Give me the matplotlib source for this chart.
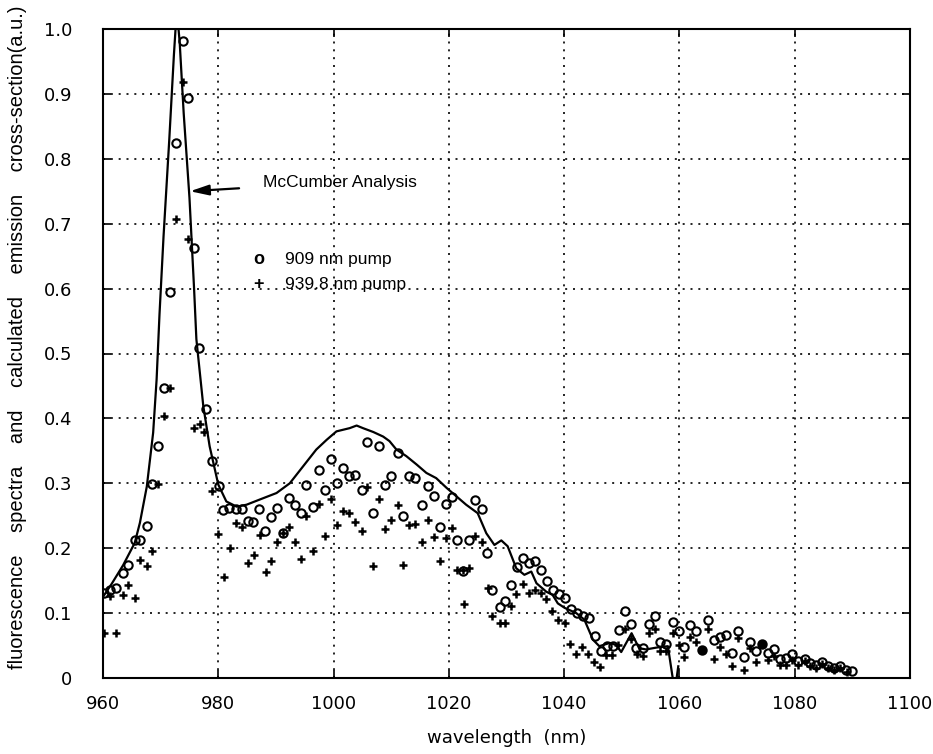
import matplotlib
matplotlib.use('Agg')
import matplotlib.pyplot as plt
from matplotlib import font_manager

# McCumber analysis (solid line)
mc_x = [960.0, 961.5, 963.5, 965.5, 966.4, 967.6, 968.7, 969.3, 969.8, 970.5, 971.5, 972.3,
        972.8, 973.3, 974.0, 975.0, 975.8, 976.2, 977.4, 978.5, 980.0, 981.4, 983.2, 984.9,
        987.2, 990.1, 992.4, 994.7, 997.0, 998.8, 1000.5, 1002.8, 1004.0, 1005.1, 1006.9,
        1008.6, 1009.7, 1010.9, 1012.6, 1014.4, 1016.1, 1017.8, 1019.6, 1021.3, 1023.0,
        1025.0, 1026.5, 1027.9, 1029.1, 1030.2, 1031.7, 1033.1, 1034.3, 1035.2, 1036.9,
        1038.0, 1038.9, 1040.1, 1042.1, 1043.5, 1045.0, 1046.1, 1047.9, 1049.0, 1049.9,
        1051.7, 1053.0, 1054.2, 1056.1, 1058.0, 1058.8, 1059.2, 1059.8]
mc_y = [0.125, 0.145, 0.174, 0.208, 0.239, 0.295, 0.378, 0.46, 0.56, 0.68, 0.83, 0.96,
        1.03, 0.98, 0.87, 0.74, 0.60, 0.522, 0.419, 0.357, 0.298, 0.272, 0.264, 0.267,
        0.275, 0.285, 0.300, 0.326, 0.352, 0.367, 0.380, 0.385, 0.389, 0.385, 0.379,
        0.372, 0.365, 0.352, 0.342, 0.329, 0.316, 0.308, 0.293, 0.280, 0.267,
        0.254, 0.223, 0.205, 0.212, 0.203, 0.169, 0.159, 0.164, 0.146, 0.133,
        0.128, 0.115, 0.108, 0.100, 0.090, 0.059, 0.049, 0.054, 0.051, 0.040,
        0.069, 0.046, 0.044, 0.047, 0.049, 0.002, -0.02, 0.018]

# 909 nm pump (open circles)
p909_x = [960.2, 961.2, 962.3, 963.4, 964.4, 965.5, 966.5, 967.6, 968.5, 969.6, 970.6, 971.6,
          972.65, 973.8, 974.8, 975.8, 976.7, 977.85, 978.9, 980.05, 980.85, 981.9, 983.05,
          984.1, 985.1, 986.05, 987.1, 988.1, 989.2, 990.2, 991.25, 992.2, 993.3, 994.3,
          995.3, 996.45, 997.5, 998.5, 999.6, 1000.6, 1001.65, 1002.7, 1003.7, 1004.9,
          1005.8, 1006.85, 1007.9, 1008.9, 1010.0, 1011.1, 1012.05, 1013.1, 1014.2, 1015.3,
          1016.3, 1017.4, 1018.4, 1019.45, 1020.5, 1021.4, 1022.45, 1023.5, 1024.6, 1025.7,
          1026.7, 1027.5, 1028.8, 1029.7, 1030.8, 1031.8, 1032.8, 1033.9, 1034.9, 1036.0,
          1037.0, 1038.0, 1039.1, 1040.1, 1041.2, 1042.2, 1043.2, 1044.3, 1045.3, 1046.4,
          1047.4, 1048.4, 1049.5, 1050.5, 1051.55, 1052.5, 1053.6, 1054.7, 1055.7, 1056.65,
          1057.7, 1058.8, 1059.9, 1060.8, 1061.85, 1062.9, 1065.0, 1066.0, 1067.05, 1068.1,
          1069.1, 1070.2, 1071.2, 1072.25, 1073.3, 1075.4, 1076.4, 1077.45, 1078.5, 1079.5,
          1080.6, 1081.7, 1082.6, 1083.7, 1084.7, 1085.8, 1086.8, 1087.8, 1088.9, 1090.0]
p909_y = [0.131, 0.135, 0.138, 0.162, 0.174, 0.213, 0.213, 0.234, 0.299, 0.358, 0.447, 0.595,
          0.825, 0.982, 0.894, 0.662, 0.509, 0.415, 0.334, 0.296, 0.259, 0.262, 0.260,
          0.260, 0.242, 0.241, 0.260, 0.227, 0.248, 0.262, 0.223, 0.277, 0.267, 0.254,
          0.298, 0.263, 0.321, 0.290, 0.338, 0.301, 0.323, 0.312, 0.313, 0.290,
          0.364, 0.255, 0.357, 0.297, 0.311, 0.346, 0.249, 0.312, 0.308, 0.266,
          0.296, 0.280, 0.233, 0.268, 0.279, 0.213, 0.165, 0.213, 0.275, 0.260,
          0.193, 0.135, 0.109, 0.118, 0.144, 0.171, 0.185, 0.177, 0.181, 0.166,
          0.149, 0.136, 0.130, 0.123, 0.106, 0.100, 0.095, 0.092, 0.064, 0.042,
          0.049, 0.049, 0.074, 0.104, 0.083, 0.046, 0.046, 0.083, 0.096, 0.056,
          0.052, 0.087, 0.073, 0.047, 0.082, 0.073, 0.090, 0.058, 0.063, 0.066,
          0.039, 0.072, 0.033, 0.056, 0.041, 0.039, 0.044, 0.030, 0.031, 0.037,
          0.026, 0.030, 0.023, 0.020, 0.025, 0.019, 0.016, 0.019, 0.013, 0.011]
filled_x = [1063.9, 1074.3]
filled_y = [0.043, 0.052]

# 939.8 nm pump (plus signs)
p939_x = [960.2, 961.2, 962.25, 963.4, 964.4, 965.5, 966.5, 967.6, 968.5, 969.6, 970.6, 971.6,
          972.65, 973.8, 974.8, 975.8, 976.8, 977.6, 978.9, 979.9, 981.0, 982.0, 983.05,
          984.1, 985.1, 986.2, 987.2, 988.25, 989.2, 990.2, 991.25, 992.3, 993.3, 994.4,
          995.3, 996.45, 997.5, 998.5, 999.6, 1000.6, 1001.65, 1002.7, 1003.7, 1004.9,
          1005.8, 1006.85, 1007.9, 1008.9, 1010.0, 1011.1, 1012.05, 1013.1, 1014.2, 1015.3,
          1016.3, 1017.4, 1018.4, 1019.45, 1020.5, 1021.4, 1022.45, 1022.6, 1023.5, 1024.6,
          1025.7, 1026.8, 1027.5, 1028.8, 1029.8, 1030.7, 1031.7, 1032.85, 1033.9, 1034.9,
          1035.9, 1036.9, 1037.9, 1039.0, 1040.1, 1041.05, 1042.1, 1043.1, 1044.2, 1045.2,
          1046.25, 1047.3, 1048.3, 1049.3, 1050.6, 1051.6, 1052.6, 1053.6, 1054.7, 1055.7,
          1056.65, 1057.7, 1058.8, 1059.9, 1060.8, 1061.85, 1062.9, 1065.0, 1066.0, 1067.05,
          1068.1, 1069.1, 1070.2, 1071.2, 1072.25, 1073.3, 1075.4, 1076.4, 1077.45, 1078.5,
          1079.5, 1080.6, 1081.7, 1082.6, 1083.7, 1084.7, 1085.8, 1086.8, 1087.8, 1089.0]
p939_y = [0.070, 0.126, 0.070, 0.128, 0.144, 0.123, 0.182, 0.173, 0.195, 0.299, 0.403, 0.447,
          0.708, 0.918, 0.676, 0.385, 0.392, 0.379, 0.288, 0.222, 0.155, 0.200, 0.239,
          0.232, 0.177, 0.189, 0.221, 0.163, 0.180, 0.209, 0.223, 0.232, 0.210, 0.183,
          0.249, 0.195, 0.268, 0.219, 0.276, 0.235, 0.257, 0.255, 0.240, 0.226,
          0.294, 0.173, 0.276, 0.229, 0.243, 0.266, 0.174, 0.236, 0.238, 0.209,
          0.243, 0.217, 0.180, 0.216, 0.231, 0.167, 0.167, 0.114, 0.169, 0.219,
          0.210, 0.139, 0.095, 0.085, 0.085, 0.111, 0.130, 0.145, 0.131, 0.136,
          0.131, 0.121, 0.104, 0.090, 0.084, 0.052, 0.037, 0.048, 0.037, 0.025,
          0.017, 0.035, 0.035, 0.051, 0.075, 0.060, 0.037, 0.034, 0.069, 0.075,
          0.041, 0.041, 0.069, 0.051, 0.032, 0.063, 0.056, 0.075, 0.030, 0.048,
          0.037, 0.019, 0.061, 0.013, 0.046, 0.025, 0.028, 0.034, 0.020, 0.020,
          0.028, 0.020, 0.026, 0.019, 0.016, 0.021, 0.015, 0.012, 0.015, 0.010]

xticks = [960, 980, 1000, 1020, 1040, 1060, 1080, 1100]
yticks = [0, 0.1, 0.2, 0.3, 0.4, 0.5, 0.6, 0.7, 0.8, 0.9, 1.0]
ytick_labels = ['0', '0.1', '0.2', '0.3', '0.4', '0.5', '0.6', '0.7', '0.8', '0.9', '1.0']

# pick a narrow face if one is installed
installed = {f.name for f in font_manager.fontManager.ttflist}
narrow = [n for n in ['Liberation Sans Narrow', 'DejaVu Sans Condensed', 'Liberation Sans']
          if n in installed] + ['DejaVu Sans']

fig = plt.figure(figsize=(9.33, 7.54), dpi=100)
ax = fig.add_axes([103 / 933, 76 / 754, 807 / 933, 649 / 754])

ax.plot(mc_x, mc_y, color='black', lw=1.6)
ax.plot(p909_x, p909_y, linestyle='none', marker='o', ms=6, mfc='none',
        mec='black', mew=1.5)
ax.plot(filled_x, filled_y, linestyle='none', marker='o', ms=6, mfc='black',
        mec='black', mew=1.5)
ax.plot(p939_x, p939_y, linestyle='none', marker='+', ms=6, color='black', mew=1.8)

ax.set_xlim(960, 1100)
ax.set_ylim(0, 1)
ax.set_xticks(xticks)
ax.set_yticks(yticks)
ax.set_yticklabels(ytick_labels)
ax.grid(True, linestyle=(0, (1.2, 3.5)), color='black', lw=1.2)
ax.tick_params(direction='in', length=6, width=1.2, top=True, right=True, labelsize=13)
ax.tick_params(axis='x', pad=12)
ax.tick_params(axis='y', pad=22)
for s in ax.spines.values():
    s.set_linewidth(1.5)

ax.set_xlabel('wavelength  (nm)', fontsize=13, labelpad=12)
ax.set_ylabel('fluorescence    spectra    and    calculated    emission    cross-section(a.u.)',
              fontsize=14.5, family=narrow)
ax.yaxis.set_label_coords(-0.094, 0.525)

ax.annotate('McCumber Analysis', xy=(975.1, 0.750), xytext=(987.7, 0.764),
            fontsize=12.5, family=narrow, va='center', ha='left',
            arrowprops=dict(arrowstyle='-|>,head_length=0.9,head_width=0.25',
                            color='black', lw=1.6, shrinkA=15, shrinkB=0))
ax.text(987.0, 0.645, 'o', fontsize=13, family=narrow, fontweight='bold',
        va='center', ha='center')
ax.text(991.5, 0.645, '909 nm pump', fontsize=12.5, family=narrow, va='center')
ax.text(987.0, 0.606, '+', fontsize=13, family=narrow, fontweight='bold',
        va='center', ha='center')
ax.text(991.5, 0.606, '939.8 nm pump', fontsize=12.5, family=narrow, va='center')

fig.savefig('out.png', dpi=100)
